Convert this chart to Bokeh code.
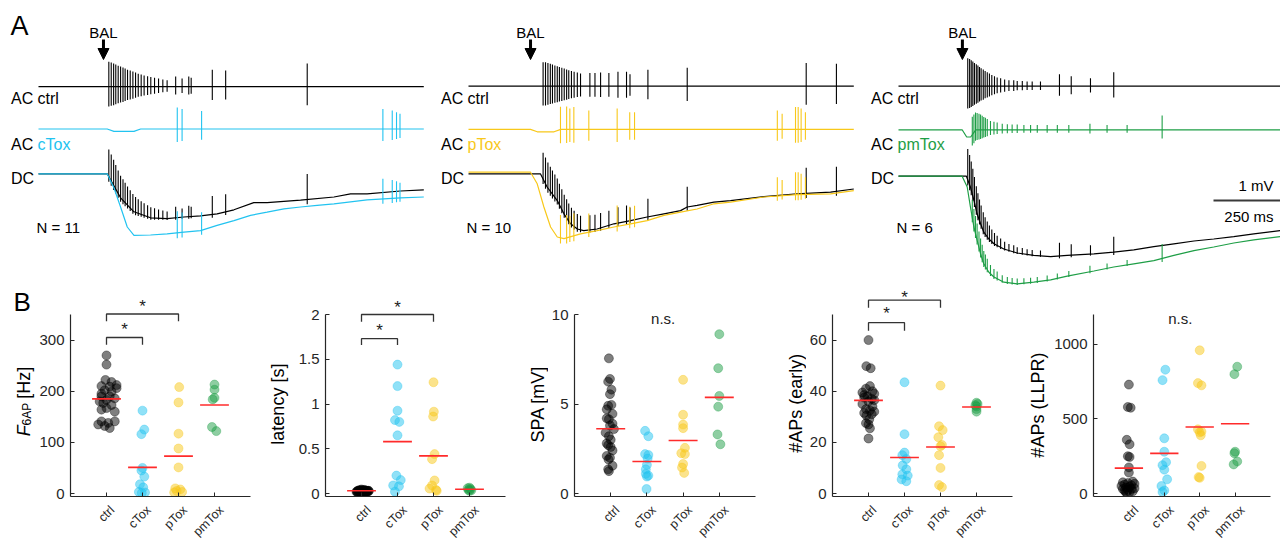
import numpy as np
from bokeh.plotting import figure
from bokeh.models import Range1d, FixedTicker, CustomJSTickFormatter, Arrow, NormalHead
from bokeh.layouts import column, row
from bokeh.embed import file_html
from bokeh.resources import INLINE
from bokeh.core.properties import value

FONT = "Liberation Sans"
C_CTRL = "#000000"
C_CTOX = "#22C3F0"
C_PTOX = "#F8C81A"
C_PMTOX = "#1E9E46"
C_MEAN = "#FF2B2B"
C_AX = "#262626"

# ---------------- Panel A data (time in ms, voltage in mV relative to DC baseline) ----------------
bal_t = [243, 232, 239]

# panel 1: ctrl vs cTox
dc_ctrl1_t = [0, 257, 307, 357, 419, 481, 544, 606, 668, 731, 805, 855, 980, 1105, 1167, 1229, 1354, 1441]
dc_ctrl1_v = [0, 0, -0.6, -0.95, -1.1, -1.12, -1.08, -1.05, -1.0, -0.9, -0.72, -0.72, -0.66, -0.58, -0.5, -0.5, -0.43, -0.4]
dc_ctox1_t = [0, 257, 282, 307, 332, 357, 419, 481, 544, 606, 668, 731, 793, 855, 918, 980, 1042, 1105, 1229, 1354, 1441]
dc_ctox1_v = [0, 0, -0.35, -0.83, -1.33, -1.54, -1.53, -1.5, -1.46, -1.42, -1.29, -1.17, -1.04, -0.96, -0.875, -0.83, -0.79, -0.75, -0.65, -0.6, -0.58]
ac_ctrl1_t = [0, 1441]
ac_ctrl1_v = [0, 0]
ac_ctox1_t = [0, 257, 282, 357, 382, 1441]
ac_ctox1_v = [0, 0, -0.06, -0.06, 0, 0]
spk_ctrl1_t = [263, 272, 281, 289, 298, 307, 316, 324, 333, 343, 353, 363, 373, 384, 395, 408, 420, 434, 449, 465, 481, 513, 537, 562, 571, 650, 700, 1005]
spk_ctrl1_a = [0.62, 0.6, 0.58, 0.55, 0.52, 0.5, 0.48, 0.45, 0.42, 0.4, 0.38, 0.35, 0.32, 0.3, 0.28, 0.26, 0.24, 0.22, 0.2, 0.18, 0.16, 0.25, 0.2, 0.25, 0.22, 0.42, 0.4, 0.58]
spk_ctox1_t = [519, 537, 610, 1288, 1323, 1339, 1352]
spk_ctox1_a = [0.54, 0.5, 0.45, 0.5, 0.46, 0.42, 0.38]

# panel 2: ctrl vs pTox
dc_ctrl2_t = [0, 269, 294, 332, 357, 382, 407, 431, 481, 544, 606, 668, 731, 793, 818, 855, 918, 980, 1105, 1229, 1354, 1441]
dc_ctrl2_v = [0, 0, -0.33, -0.67, -1.0, -1.25, -1.38, -1.42, -1.38, -1.25, -1.17, -1.08, -1.0, -0.92, -0.83, -0.79, -0.71, -0.67, -0.57, -0.5, -0.46, -0.38]
dc_ptox2_t = [0, 232, 257, 282, 307, 332, 357, 419, 481, 544, 606, 668, 731, 793, 855, 918, 980, 1105, 1229, 1354, 1441]
dc_ptox2_v = [0.04, 0.04, -0.25, -0.83, -1.33, -1.58, -1.62, -1.5, -1.42, -1.33, -1.25, -1.17, -1.04, -0.96, -0.88, -0.75, -0.71, -0.58, -0.52, -0.5, -0.42]
ac_ctrl2_t = [0, 1441]
ac_ctrl2_v = [0, 0]
ac_ptox2_t = [0, 232, 257, 320, 345, 1441]
ac_ptox2_v = [0, 0, -0.06, -0.06, 0, 0]
spk_ctrl2_t = [279, 288, 297, 306, 314, 323, 332, 340, 349, 358, 367, 375, 385, 395, 407, 419, 454, 473, 494, 525, 559, 591, 604, 671, 818, 1263, 1376]
spk_ctrl2_a = [0.6, 0.6, 0.58, 0.56, 0.54, 0.52, 0.5, 0.48, 0.46, 0.44, 0.42, 0.4, 0.38, 0.36, 0.34, 0.32, 0.33, 0.33, 0.34, 0.33, 0.36, 0.36, 0.3, 0.41, 0.46, 0.58, 0.56]
spk_ptox2_t = [344, 367, 379, 394, 450, 556, 603, 621, 1155, 1173, 1223, 1233, 1244, 1260]
spk_ptox2_a = [0.57, 0.57, 0.52, 0.56, 0.47, 0.52, 0.43, 0.43, 0.47, 0.39, 0.56, 0.56, 0.52, 0.43]

# panel 3: ctrl vs pmTox
dc_ctrl3_t = [0, 254, 269, 282, 294, 307, 319, 338, 357, 394, 444, 506, 569, 631, 731, 805, 880, 955, 1030, 1105, 1179, 1254, 1329, 1429]
dc_ctrl3_v = [0, 0, -0.27, -0.6, -0.94, -1.19, -1.4, -1.57, -1.69, -1.82, -1.92, -1.98, -2.01, -1.98, -1.94, -1.9, -1.84, -1.76, -1.69, -1.62, -1.57, -1.51, -1.44, -1.36]
dc_pmtox3_t = [0, 238, 257, 269, 282, 294, 307, 319, 338, 357, 394, 444, 506, 569, 631, 731, 805, 880, 955, 1030, 1105, 1179, 1254, 1329, 1429]
dc_pmtox3_v = [0, 0, -0.27, -0.77, -1.27, -1.6, -1.94, -2.19, -2.4, -2.52, -2.65, -2.69, -2.65, -2.59, -2.5, -2.37, -2.27, -2.19, -2.11, -1.98, -1.86, -1.77, -1.67, -1.59, -1.51]
ac_ctrl3_t = [0, 1429]
ac_ctrl3_v = [0, 0]
ac_pmtox3_t = [0, 238, 255, 270, 289, 1429]
ac_pmtox3_v = [0, 0, -0.18, -0.18, 0, 0]
spk_ctrl3_t = [259, 266, 272, 278, 284, 291, 297, 303, 309, 317, 324, 332, 340, 349, 359, 369, 382, 397, 413, 431, 444, 463, 481, 500, 531, 602, 646, 718, 805]
spk_ctrl3_a = [0.7, 0.68, 0.65, 0.62, 0.58, 0.55, 0.52, 0.48, 0.45, 0.42, 0.38, 0.35, 0.32, 0.28, 0.25, 0.22, 0.2, 0.17, 0.15, 0.15, 0.13, 0.13, 0.12, 0.12, 0.12, 0.3, 0.25, 0.2, 0.35]
spk_pmtox3_t = [276, 282, 288, 294, 301, 307, 313, 319, 325, 332, 344, 357, 369, 388, 407, 425, 444, 469, 494, 519, 556, 594, 637, 716, 780, 855, 986]
spk_pmtox3_a = [0.45, 0.45, 0.44, 0.42, 0.4, 0.38, 0.35, 0.32, 0.3, 0.27, 0.22, 0.2, 0.18, 0.15, 0.14, 0.13, 0.13, 0.12, 0.12, 0.12, 0.12, 0.12, 0.12, 0.15, 0.12, 0.12, 0.36]

n_cells = ["N = 11", "N = 10", "N = 6"]
tox_names = ["cTox", "pTox", "pmTox"]
tox_colors = [C_CTOX, C_PTOX, C_PMTOX]

# ---------------- Panel B data ----------------
groups = ["ctrl", "cTox", "pTox", "pmTox"]
group_colors = [C_CTRL, C_CTOX, C_PTOX, C_PMTOX]

f6ap_vals = [
    [270, 252, 222, 218, 212, 210, 209, 206, 202, 199, 195, 190, 190, 186, 183, 180, 177, 173, 167, 164, 160, 141, 141, 138, 135, 132, 128],
    [162, 125, 116, 50, 45, 33, 18, 12, 3, 2, 1],
    [208, 178, 117, 88, 51, 10, 8, 5, 3, 2],
    [213, 203, 187, 184, 130, 122],
]
f6ap_offs = [
    [0, 0, -0.03, 0.14, 0.28, -0.14, 0.09, 0.28, -0.05, 0.14, -0.14, 0.09, -0.14, 0.23, 0, -0.19, -0.09, 0.14, 0, -0.14, 0.23, -0.14, 0.23, 0.05, -0.23, -0.05, 0.09],
    [0, 0.05, -0.03, 0, -0.03, 0.05, -0.07, 0.02, -0.1, 0.07, -0.02],
    [0.02, 0, 0, 0, 0, -0.09, 0.05, -0.05, 0.1, -0.12],
    [0, 0, 0, -0.05, -0.07, 0.05],
]
f6ap_means = [185, 51, 73, 173]

lat_vals = [
    [0.03, 0.02, 0.025, 0.035, 0.02, 0.03, 0.015, 0.04, 0.025, 0.03, 0.02, 0.035, 0.025, 0.03, 0.02, 0.045, 0.025, 0.03, 0.015, 0.035, 0.02, 0.03, 0.025, 0.04, 0.02, 0.03, 0.025],
    [1.44, 1.2, 0.925, 0.82, 0.8, 0.65, 0.2, 0.15, 0.09, 0.08, 0.02],
    [1.243, 0.914, 0.86, 0.44, 0.384, 0.146, 0.09, 0.055, 0.04, 0.03],
    [0.065, 0.05, 0.04, 0.03, 0.035, 0.06],
]
lat_offs = [
    [0, -0.1, 0.1, 0.05, -0.05, 0.15, -0.12, 0.08, 0.2, -0.03, 0.12, -0.08, 0.03, 0.18, -0.14, 0, 0.07, -0.06, 0.14, 0.1, 0.02, -0.1, 0.16, -0.02, 0.06, 0.2, -0.12],
    [0, 0, 0, -0.07, 0.05, 0, -0.03, 0.09, -0.12, 0.04, -0.07],
    [0, 0.01, -0.01, 0.03, -0.04, 0.03, -0.04, -0.11, 0.07, 0.09],
    [0, 0.03, -0.03, 0, 0.05, -0.05],
]
lat_means = [0.03, 0.58, 0.42, 0.048]

spa_vals = [
    [7.55, 6.4, 6.25, 5.8, 5.55, 4.95, 4.9, 4.7, 4.45, 4.2, 4.15, 3.9, 3.8, 3.6, 3.2, 3.0, 2.7, 2.6, 2.4, 2.1, 2.0, 1.9, 1.55, 1.35, 1.25, 3.4, 2.8],
    [3.5, 3.2, 2.2, 2.15, 1.95, 1.6, 1.35, 1.1, 1.0, 0.95, 0.25],
    [6.35, 4.4, 3.85, 3.65, 2.55, 2.25, 2.2, 1.65, 1.45, 1.15],
    [8.9, 7.0, 5.45, 4.85, 3.3, 2.75],
]
spa_offs = [
    [-0.05, -0.02, -0.07, 0.02, -0.02, 0.02, -0.07, -0.11, 0.05, -0.11, -0.05, 0.05, -0.02, 0.09, -0.05, 0, -0.07, 0, 0.05, -0.11, -0.02, -0.06, 0.05, -0.07, -0.05, -0.14, -0.11],
    [-0.05, 0.04, -0.05, 0.04, 0.02, 0, -0.03, -0.03, 0.04, 0, -0.01],
    [0, 0, 0, 0, 0.05, -0.05, 0.05, 0, -0.03, 0.03],
    [0, -0.03, 0, -0.03, -0.05, 0.03],
]
spa_means = [3.62, 1.79, 2.96, 5.37]

early_vals = [
    [60, 49.8, 49, 42, 41, 40, 39.5, 39, 38, 37.5, 37, 36, 35, 34, 33, 32.5, 32, 31.5, 31, 30.5, 29, 27.5, 27, 25.5, 21.5, 36.5, 38.5],
    [43.5, 23.2, 16, 15, 13.5, 11, 9.5, 7.5, 7, 5.5, 4.8],
    [42.2, 26.3, 24.8, 22, 19, 18.5, 15, 10, 3.3, 2.5],
    [35.5, 35, 34.5, 34, 33, 32],
]
early_offs = [
    [0, -0.06, 0.06, 0.04, -0.07, 0.11, -0.17, 0.16, -0.03, -0.12, 0.09, 0, -0.17, 0.11, -0.07, 0.04, 0.16, -0.12, 0.09, -0.06, 0.02, -0.07, 0, 0.04, 0, 0.16, -0.12],
    [0, 0, 0, -0.06, 0.05, -0.05, 0.05, -0.06, 0.09, -0.08, 0.05],
    [0, -0.04, 0.06, -0.06, 0.04, 0, -0.04, 0, -0.04, 0.04],
    [0, 0.03, -0.03, 0, 0, 0],
]
early_means = [36.4, 14.1, 18.2, 33.8]

llpr_vals = [
    [730, 580, 575, 360, 330, 250, 245, 175, 140, 80, 75, 70, 65, 60, 55, 50, 45, 40, 35, 30, 30, 25, 20, 15, 10, 10, 5],
    [830, 760, 370, 280, 210, 190, 160, 95, 50, 20, 10],
    [960, 740, 725, 430, 415, 410, 390, 185, 110, 105],
    [850, 800, 280, 270, 215, 195],
]
llpr_offs = [
    [0, -0.03, 0.05, -0.06, 0.02, -0.03, 0.02, 0, 0, 0.11, -0.17, -0.03, 0.16, -0.12, 0.07, -0.21, 0.02, -0.08, 0.16, -0.17, 0.07, -0.03, -0.12, 0.11, 0.02, -0.09, -0.06],
    [0.03, -0.05, 0, 0, 0.05, -0.05, 0, 0.08, -0.08, 0, -0.05],
    [0, -0.05, 0.05, -0.05, 0.05, 0, 0.03, 0.05, -0.03, 0],
    [0.06, -0.02, 0, -0.02, 0.06, -0.04],
]
llpr_means = [170, 269, 446, 468]

# ---------------- Panel A figures ----------------
A_H = 286
PX_PER_MV = 40.0
PX_PER_MS = 1 / 3.74


def lab(p, x, y, text, size="16px", color="black", align="left", baseline="middle", style="normal", angle=0.0):
    p.text([x], [y], text=[text], text_font=value(FONT), text_font_size=size, text_color=color,
           text_align=align, text_baseline=baseline, text_font_style=style, angle=angle)


def trace(p, t, v, off, color, st, sa, up, dn):
    t = np.asarray(t, float)
    v = np.asarray(v, float) + off
    p.line(t, v, line_color=color, line_width=1.2)
    st = np.asarray(st, float)
    sa = np.asarray(sa, float)
    base = np.interp(st, t, v)
    p.segment(x0=st, y0=base - dn * sa, x1=st, y1=base + up * sa, line_color=color, line_width=1.1)


def blank(width, height, xr, yr, left=0, right=0):
    p = figure(width=width, height=height, x_range=Range1d(*xr), y_range=Range1d(*yr),
               x_axis_type=None, y_axis_type=None, min_border=0, min_border_left=left,
               min_border_right=right, min_border_top=0, min_border_bottom=0,
               toolbar_location=None, output_backend="svg", outline_line_color=None)
    p.background_fill_color = "white"
    p.border_fill_color = "white"
    return p


def panel_a(width, trace_x0, zero_y, idx, dc_c, dc_x, ac_c, ac_x, spk_c, spk_x, ac_offs,
            show_letter=False, scalebar=False):
    # trace_x0: pixel where time 0 sits inside the figure; zero_y: pixel row of the DC baseline
    xr = (-trace_x0 / PX_PER_MS, (width - trace_x0) / PX_PER_MS)
    yr = (-(A_H - zero_y) / PX_PER_MV, zero_y / PX_PER_MV)
    p = blank(width, A_H, xr, yr)
    col = tox_colors[idx]
    trace(p, ac_c[0], ac_c[1], ac_offs[0], C_CTRL, spk_c[0], spk_c[1], 1.0, 0.8)
    trace(p, ac_x[0], ac_x[1], ac_offs[1], col, spk_x[0], spk_x[1], 1.0, 0.6)
    trace(p, dc_c[0], dc_c[1], 0.0, C_CTRL, spk_c[0], spk_c[1], 1.1, 0.2)
    trace(p, dc_x[0], dc_x[1], 0.0, col, spk_x[0], spk_x[1], 1.0, 0.25)

    def ty(page_y):
        return (zero_y - page_y) / PX_PER_MV

    def tx(px):
        return (px - trace_x0) / PX_PER_MS

    lab(p, tx(10.5), ty(98.3), "AC")
    lab(p, tx(37), ty(98.3), "ctrl")
    lab(p, tx(10.5), ty(143.5), "AC")
    lab(p, tx(37), ty(143.5), tox_names[idx], color=col)
    lab(p, tx(10.5), ty(178), "DC")
    lab(p, tx(36), ty(226.5), n_cells[idx], size="15px")
    bt = bal_t[idx]
    lab(p, bt, ty(31.5), "BAL", size="15px", align="center")
    p.add_layout(Arrow(end=NormalHead(size=11, fill_color="black", line_color="black"),
                       x_start=bt, y_start=ty(39), x_end=bt, y_end=ty(59),
                       line_width=3, line_color="black"))
    if show_letter:
        lab(p, tx(10), ty(25), "A", size="27px")
    if scalebar:
        p.line([tx(353), tx(353) + 250], [ty(200), ty(200)], line_color="#3a3a3a", line_width=2)
        lab(p, tx(413), ty(184.5), "1 mV", size="15px", align="right")
        lab(p, tx(413), ty(216), "250 ms", size="15px", align="right")
    return p


pa1 = panel_a(430, 38, 173.3, 0,
              (dc_ctrl1_t, dc_ctrl1_v), (dc_ctox1_t, dc_ctox1_v),
              (ac_ctrl1_t, ac_ctrl1_v), (ac_ctox1_t, ac_ctox1_v),
              (spk_ctrl1_t, spk_ctrl1_a), (spk_ctox1_t, spk_ctox1_a),
              (2.18, 1.12), show_letter=True)
pa2 = panel_a(430, 38, 173.3, 1,
              (dc_ctrl2_t, dc_ctrl2_v), (dc_ptox2_t, dc_ptox2_v),
              (ac_ctrl2_t, ac_ctrl2_v), (ac_ptox2_t, ac_ptox2_v),
              (spk_ctrl2_t, spk_ctrl2_a), (spk_ptox2_t, spk_ptox2_a),
              (2.19, 1.11))
pa3 = panel_a(420, 38, 175.7, 2,
              (dc_ctrl3_t, dc_ctrl3_v), (dc_pmtox3_t, dc_pmtox3_v),
              (ac_ctrl3_t, ac_ctrl3_v), (ac_pmtox3_t, ac_pmtox3_v),
              (spk_ctrl3_t, spk_ctrl3_a), (spk_pmtox3_t, spk_pmtox3_a),
              (2.25, 1.16), scalebar=True)

# ---------------- Panel B figures ----------------
TOTAL_H = 541
PAGE_TOP_B = A_H               # page y where the B row starts
AXIS_Y = 496                   # page y of the x axis line
FRAME_H = AXIS_Y - PAGE_TOP_B  # frame height of the scatter plots
MAIN_BOT = 6                   # bottom border of the scatter plots
MAIN_H = FRAME_H + MAIN_BOT
XL_H = TOTAL_H - PAGE_TOP_B - MAIN_H   # strip for rotated category labels
ZERO_PX = 3                    # value 0 sits this far above the x axis line
AX_PX = AXIS_Y - ZERO_PX - 314  # pixels from value 0 to the top of the y axis


def panel_b(ys_left, ys_w, left, frame_w, right, ymax, yticks, vals, offs, means,
            ylabel, brackets=None, ns=False, letter=False):
    main_w = left + frame_w + right
    pxu = AX_PX / ymax
    y0 = -ZERO_PX / pxu
    y1 = y0 + FRAME_H / pxu
    p = figure(width=main_w, height=MAIN_H, x_range=Range1d(0, 5), y_range=Range1d(y0, y1),
               min_border_left=left, min_border_right=right, min_border_top=0, min_border_bottom=MAIN_BOT,
               toolbar_location=None, output_backend="svg", outline_line_color=None)
    p.background_fill_color = "white"
    p.border_fill_color = "white"
    p.grid.visible = False
    for ax in (p.xaxis[0], p.yaxis[0]):
        ax.axis_line_color = C_AX
        ax.axis_line_width = 1.2
        ax.major_tick_line_color = C_AX
        ax.major_tick_in = 4
        ax.major_tick_out = 0
        ax.minor_tick_line_color = None
        ax.major_label_text_font = FONT
        ax.major_label_text_font_size = "15px"
        ax.major_label_text_color = C_AX
    p.yaxis.ticker = FixedTicker(ticks=yticks)
    p.yaxis.formatter = CustomJSTickFormatter(code="return tick.toString();")
    p.yaxis.bounds = (y0, ymax)
    p.yaxis.major_label_standoff = 6
    p.xaxis.ticker = FixedTicker(ticks=[1, 2, 3, 4])
    # category names are drawn (rotated) in the strip below the plot
    p.xaxis.major_label_text_font_size = "0px"
    p.xaxis.major_label_text_color = None
    p.xaxis.major_label_standoff = 0

    for i in range(4):
        xs = np.array(offs[i], float) + (i + 1)
        p.scatter(xs, vals[i], size=9, marker="circle", fill_color=group_colors[i], fill_alpha=0.5,
                  line_color=group_colors[i], line_alpha=0.35)
    cx = np.arange(1, 5)
    p.segment(x0=cx - 0.4, x1=cx + 0.4, y0=means, y1=means, line_color=C_MEAN, line_width=1.6)

    if brackets:
        for (a, b, top, low, star_y) in brackets:
            p.line([a, a, b, b], [low, top, top, low], line_color="#333333", line_width=1.3)
            p.text([(a + b) / 2], [star_y], text=["*"], text_font=value(FONT), text_font_size="17px",
                   text_align="center", text_baseline="middle", text_color="#222222")
    if ns:
        p.text([2.45], [0.978 * ymax], text=["n.s."], text_font=value(FONT), text_font_size="15px",
               text_align="center", text_baseline="middle", text_color="#222222")

    # strip on the left holding the rotated y label (page pixel coordinates)
    bottom_page = PAGE_TOP_B + MAIN_H
    ys = blank(ys_w, MAIN_H, (ys_left, ys_left + ys_w), (0, MAIN_H))

    def py(page_y):
        return bottom_page - page_y

    if isinstance(ylabel, str):
        lx, ly = ylabel_pos[ylabel]
        lab(ys, lx, py(ly), ylabel, size="18px", align="center", baseline="middle", angle=np.pi / 2)
    else:
        # italic F with subscript 6AP, then [Hz]
        lab(ys, 23, py(440), "F", size="18px", style="italic", baseline="alphabetic", angle=np.pi / 2)
        lab(ys, 26.5, py(429), "6AP", size="12px", baseline="alphabetic", angle=np.pi / 2)
        lab(ys, 23, py(406.5), "\u00a0[Hz]", size="18px", baseline="alphabetic", angle=np.pi / 2)
    if letter:
        lab(ys, 13, py(286.5), "B", size="26px", align="left", baseline="top")

    # strip below holding the rotated category labels
    xl = blank(ys_w + main_w, XL_H, (0, 5), (0, XL_H), left=ys_w + left, right=right)
    dx = 2.5 * 5 / frame_w
    xl.text(x=list(np.arange(1, 5) + dx), y=[XL_H - 0.5] * 4, text=groups, text_font=value(FONT),
            text_font_size="12.5px", text_color=C_AX, text_align="right", text_baseline="top",
            angle=np.pi / 4)
    return column(row(ys, p, spacing=0), xl, spacing=0)


ylabel_pos = {
    "latency [s]": (277, 407),
    "SPA [mV]": (537, 407),
    "#APs (early)": (795, 406),
    "#APs (LLPR)": (1037, 408),
}

pb1 = panel_b(0, 36, 32, 182, 8, 350, [0, 100, 200, 300], f6ap_vals, f6ap_offs, f6ap_means,
              None, brackets=[(1, 2, 305, 291, 320), (1, 3, 351, 337, 366)], letter=True)
pb2 = panel_b(258, 37, 30, 180, 13, 2, [0, 0.5, 1, 1.5, 2], lat_vals, lat_offs, lat_means,
              "latency [s]", brackets=[(1, 2, 1.73, 1.66, 1.82), (1, 3, 2.0, 1.92, 2.08)])
pb3 = panel_b(518, 30, 25, 182, 23, 10, [0, 5, 10], spa_vals, spa_offs, spa_means,
              "SPA [mV]", ns=True)
pb4 = panel_b(778, 28, 24, 182, 14, 70, [0, 20, 40, 60], early_vals, early_offs, early_means,
              "#APs (early)", brackets=[(1, 2, 66.8, 63.6, 70.2), (1, 3, 75.6, 72.6, 76.6)])
pb5 = panel_b(1026, 24, 43, 177, 10, 1200, [0, 500, 1000], llpr_vals, llpr_offs, llpr_means,
              "#APs (LLPR)", ns=True)

layout = column(row(pa1, pa2, pa3, spacing=0), row(pb1, pb2, pb3, pb4, pb5, spacing=0), spacing=0)
open("out.html", "w").write(file_html(layout, INLINE))
